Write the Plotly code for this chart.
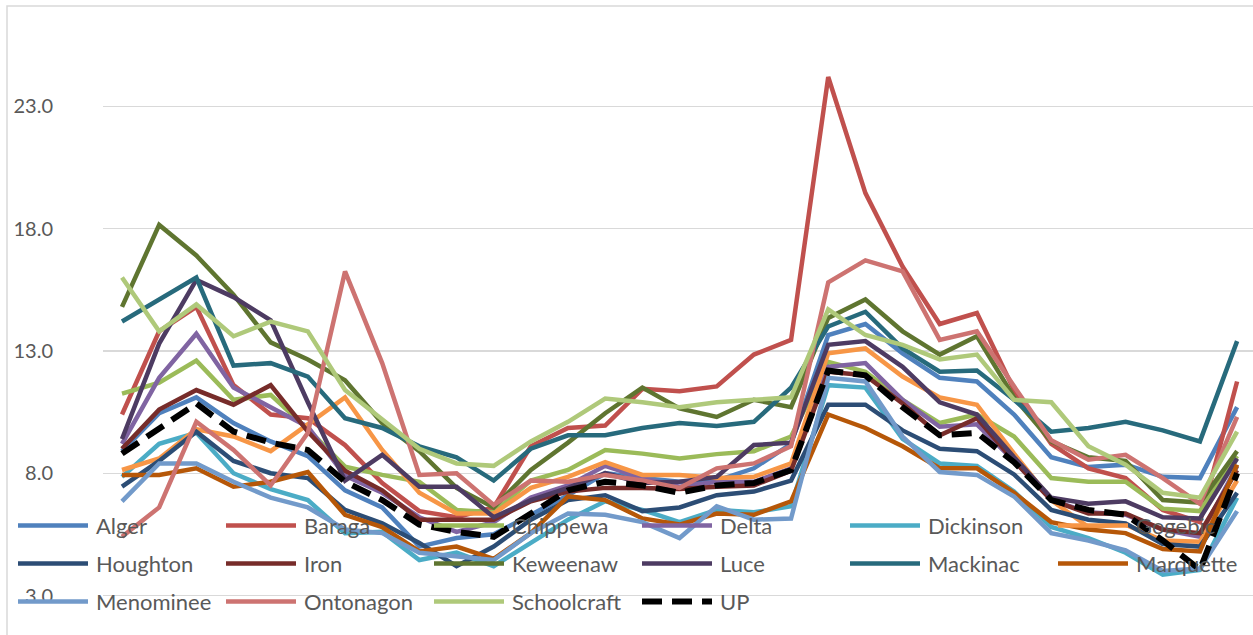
import plotly.graph_objects as go

periods = list(range(1, 32))

alger = [8.9, 10.45, 11.1, 10.05, 9.3, 8.7, 7.3, 6.6, 5.0, 5.35, 5.5, 6.3, 7.1, 8.0, 7.8, 7.65, 7.7, 8.2, 9.2, 13.65, 14.1, 12.9, 11.9, 11.75, 10.4, 8.65, 8.25, 8.35, 7.85, 7.8, 10.7]
baraga = [10.4, 13.8, 14.8, 11.6, 10.4, 10.25, 9.15, 7.6, 6.45, 6.2, 6.6, 9.1, 9.85, 9.95, 11.45, 11.35, 11.55, 12.85, 13.45, 24.2, 19.45, 16.45, 14.1, 14.55, 11.4, 9.2, 8.2, 7.8, 6.5, 6.0, 11.75]
chippewa = [11.25, 11.7, 12.6, 11.0, 11.2, 9.8, 8.27, 7.93, 7.65, 6.5, 6.4, 7.7, 8.13, 8.95, 8.8, 8.6, 8.78, 8.9, 9.5, 12.55, 12.15, 11.0, 10.05, 10.4, 9.5, 7.8, 7.65, 7.65, 6.55, 6.45, 8.7]
delta = [9.2, 11.9, 13.7, 11.5, 10.7, 9.9, 7.9, 7.2, 6.2, 5.6, 6.0, 7.0, 7.5, 8.3, 7.8, 7.45, 7.65, 7.65, 8.2, 12.35, 12.5, 11.0, 9.9, 10.0, 8.5, 6.9, 6.4, 6.3, 5.7, 5.4, 8.3]
dickinson = [7.85, 9.2, 9.65, 8.0, 7.35, 6.9, 5.55, 5.6, 4.45, 4.75, 4.2, 5.15, 6.1, 6.85, 6.5, 6.0, 6.5, 6.4, 6.65, 11.6, 11.5, 9.4, 8.4, 8.3, 7.25, 5.8, 5.35, 4.75, 3.85, 4.05, 7.0]
gogebic = [8.13, 8.6, 9.8, 9.5, 8.9, 10.0, 11.1, 8.95, 7.2, 6.35, 6.35, 7.4, 7.85, 8.45, 7.93, 7.93, 7.8, 7.85, 8.4, 12.9, 13.1, 11.95, 11.1, 10.8, 8.8, 6.9, 5.8, 5.9, 5.25, 5.2, 7.7]
houghton = [7.45, 8.5, 9.7, 8.5, 8.0, 7.8, 6.5, 5.95, 5.15, 4.2, 5.0, 6.1, 6.9, 7.1, 6.45, 6.6, 7.1, 7.25, 7.7, 10.8, 10.8, 9.75, 9.0, 8.9, 7.95, 6.5, 6.1, 5.95, 5.1, 5.0, 7.2]
iron = [9.0, 10.6, 11.4, 10.8, 11.6, 9.7, 8.1, 7.3, 6.1, 6.1, 6.1, 6.85, 7.25, 7.4, 7.4, 7.35, 7.45, 7.5, 8.1, 12.15, 12.0, 10.85, 9.55, 10.25, 8.5, 6.9, 6.35, 6.35, 5.7, 5.55, 8.13]
keweenaw = [14.8, 18.15, 16.9, 15.3, 13.35, 12.65, 11.8, 10.05, 8.9, 7.4, 6.6, 8.13, 9.25, 10.45, 11.5, 10.65, 10.3, 11.0, 10.7, 14.35, 15.1, 13.8, 12.85, 13.6, 11.1, 9.3, 8.65, 8.5, 6.9, 6.8, 8.9]
luce = [9.4, 13.3, 15.9, 15.2, 14.25, 10.9, 7.7, 8.75, 7.45, 7.45, 6.2, 6.9, 7.4, 8.0, 7.6, 7.65, 7.85, 9.15, 9.25, 13.25, 13.4, 12.35, 10.9, 10.4, 8.65, 7.0, 6.75, 6.85, 6.2, 6.15, 8.6]
mackinac = [14.2, 15.1, 16.0, 12.4, 12.5, 11.95, 10.25, 9.85, 9.1, 8.65, 7.7, 9.0, 9.55, 9.55, 9.85, 10.05, 9.93, 10.1, 11.5, 14.0, 14.6, 13.1, 12.15, 12.2, 11.0, 9.7, 9.85, 10.1, 9.75, 9.3, 13.4]
marquette = [7.93, 7.93, 8.2, 7.45, 7.65, 8.05, 6.3, 5.8, 4.8, 5.0, 4.5, 5.55, 7.05, 6.9, 6.15, 5.9, 6.35, 6.3, 6.85, 10.4, 9.85, 9.1, 8.2, 8.2, 7.2, 6.0, 5.7, 5.55, 4.9, 4.8, 8.35]
menominee = [6.85, 8.4, 8.4, 7.65, 7.0, 6.6, 5.7, 5.55, 4.75, 4.6, 4.45, 5.55, 6.35, 6.3, 6.0, 5.35, 6.65, 6.1, 6.15, 11.9, 11.75, 9.5, 8.05, 7.93, 7.05, 5.55, 5.25, 4.85, 4.0, 4.1, 6.45]
ontonagon = [5.4, 6.6, 10.1, 8.95, 7.5, 9.65, 16.25, 12.5, 7.93, 8.0, 6.7, 7.7, 7.65, 7.93, 7.7, 7.4, 8.2, 8.4, 9.1, 15.8, 16.7, 16.25, 13.45, 13.8, 11.55, 9.35, 8.55, 8.75, 7.8, 6.75, 10.3]
schoolcraft = [16.0, 13.8, 14.9, 13.6, 14.2, 13.8, 11.4, 10.2, 9.0, 8.4, 8.3, 9.3, 10.1, 11.05, 10.9, 10.7, 10.9, 11.0, 11.1, 14.7, 13.65, 13.25, 12.65, 12.85, 11.0, 10.9, 9.1, 8.35, 7.2, 7.0, 9.7]
up = [8.8, 9.85, 10.85, 9.7, 9.25, 8.95, 7.65, 6.9, 5.9, 5.6, 5.4, 6.35, 7.3, 7.65, 7.5, 7.2, 7.5, 7.6, 8.13, 12.2, 12.0, 10.7, 9.55, 9.65, 8.45, 6.9, 6.5, 6.3, 5.25, 4.05, 8.0]

series = [
    ("Alger", alger, "#4F81BD", "solid", 4.5),
    ("Baraga", baraga, "#C0504D", "solid", 4.5),
    ("Chippewa", chippewa, "#9BBB59", "solid", 4.5),
    ("Delta", delta, "#8064A2", "solid", 4.5),
    ("Dickinson", dickinson, "#4BACC6", "solid", 4.5),
    ("Gogebic", gogebic, "#F79646", "solid", 4.5),
    ("Houghton", houghton, "#2C4D75", "solid", 4.5),
    ("Iron", iron, "#772C2A", "solid", 4.5),
    ("Keweenaw", keweenaw, "#5F7530", "solid", 4.5),
    ("Luce", luce, "#4D3B62", "solid", 4.5),
    ("Mackinac", mackinac, "#276A7C", "solid", 4.5),
    ("Marquette", marquette, "#B65708", "solid", 4.5),
    ("Menominee", menominee, "#729ACA", "solid", 4.5),
    ("Ontonagon", ontonagon, "#CD7371", "solid", 4.5),
    ("Schoolcraft", schoolcraft, "#AFC97A", "solid", 4.5),
    ("UP", up, "black", "20px,10px", 6),
]

W, H = 1253, 635
L, R, T, B = 103, 0, 6, 37
pw = W - L - R
ph = H - T - B
px_per_unit = 24.46
ybase = 595.5            # pixel row of the 3.0 gridline
ymin = 3 - (H - B - ybase) / px_per_unit
ymax = ymin + ph / px_per_unit
step = 37.17
xmin = 1 - (122 - L) / step
xmax = xmin + pw / step


def xp(X):
    return (X - L) / pw


def yp(Y):
    return (H - B - Y) / ph


fig = go.Figure()
for name, vals, col, dash, lw in series:
    fig.add_trace(go.Scatter(x=periods, y=vals, name=name, mode="lines",
                             showlegend=False,
                             line=dict(color=col, width=lw, dash=dash)))

# legend drawn as shapes + text (6 columns, 3 rows like the original)
col_x = [18, 226, 434, 642, 850, 1058]
row_y = [525.5, 563.5, 601.5]
for k, (name, vals, col, dash, lw) in enumerate(series):
    r, c = divmod(k, 6)
    x0 = col_x[c]
    y0 = row_y[r]
    fig.add_shape(type="line", xref="paper", yref="paper",
                  x0=xp(x0), x1=xp(x0 + 70), y0=yp(y0), y1=yp(y0),
                  line=dict(color=col, width=lw, dash=dash), layer="above")
    fig.add_annotation(xref="paper", yref="paper", x=xp(x0 + 76), y=yp(y0),
                       xanchor="left", yanchor="middle", showarrow=False,
                       text=name, font=dict(size=22, color="#595959"))

fig.update_layout(
    width=W, height=H,
    margin=dict(l=L, r=R, t=T, b=B, pad=0, autoexpand=False),
    paper_bgcolor="white", plot_bgcolor="white",
    font=dict(family="Lato, Carlito, Calibri, sans-serif", size=20, color="#595959"),
    xaxis=dict(range=[xmin, xmax], showgrid=False, showticklabels=False,
               zeroline=False, showline=False, ticks=""),
    yaxis=dict(range=[ymin, ymax], tick0=3, dtick=5, tickformat=".1f",
               showgrid=True, gridcolor="#D9D9D9", gridwidth=1.3,
               zeroline=False, showline=False, ticks="",
               ticklabelstandoff=49,
               tickfont=dict(size=20, color="#595959")),
    showlegend=False,
)

fig.add_shape(type="rect", xref="paper", yref="paper",
              x0=xp(7), x1=1.05, y0=-0.2, y1=yp(6),
              line=dict(color="#D9D9D9", width=1.5), fillcolor="rgba(0,0,0,0)", layer="below")

fig.write_html("out.html", config={"displayModeBar": False, "staticPlot": True},
               post_script="document.body.style.margin='0';document.body.style.overflow='hidden';")
